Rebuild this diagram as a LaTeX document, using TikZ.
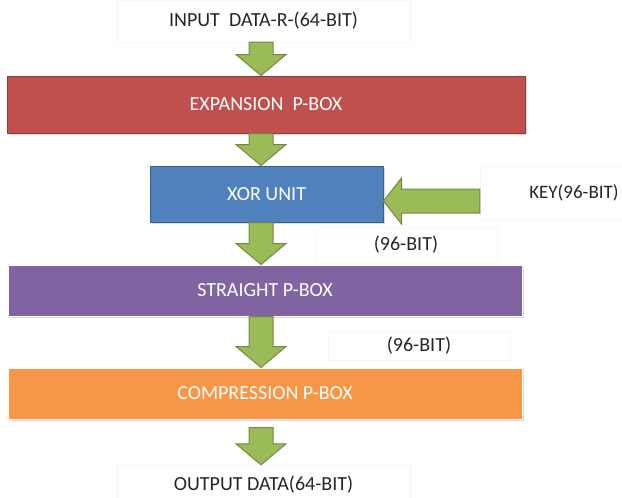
\documentclass[tikz,border=0pt]{standalone}
\usepackage{fontspec}
\setmainfont{Carlito}
\usetikzlibrary{calc,shadows}
\definecolor{expred}{HTML}{C0504D}
\definecolor{xorblue}{HTML}{4F81BD}
\definecolor{strpurple}{HTML}{8064A2}
\definecolor{cmporange}{HTML}{F79646}
\definecolor{arrgreen}{HTML}{9BBB59}
\definecolor{arrdark}{HTML}{71893F}
\newcommand{\downblk}[2]{%
  \draw[blk] let \p1=(#1), \p2=(#2) in
    (\x1-12pt,\y1) -- (\x1+12pt,\y1) -- (\x1+12pt,\y2+21pt) -- (\x1+25pt,\y2+21pt)
    -- (\x1,\y2) -- (\x1-25pt,\y2+21pt) -- (\x1-12pt,\y2+21pt) -- cycle;}
\newcommand{\leftblk}[2]{%
  \draw[blk] let \p1=(#1), \p2=(#2) in
    (\x1,\y1+12pt) -- (\x2+18pt,\y1+12pt) -- (\x2+18pt,\y1+23pt) -- (\x2,\y1)
    -- (\x2+18pt,\y1-23pt) -- (\x2+18pt,\y1-12pt) -- (\x1,\y1-12pt) -- cycle;}
\begin{document}
\begin{tikzpicture}[
  x=1pt, y=-1pt,
  box/.style={minimum width=514pt, minimum height=51pt, inner sep=0pt, text=white,
    font=\fontsize{20}{24}\selectfont, line width=1pt,
    drop shadow={shadow xshift=1.5pt, shadow yshift=-2pt, opacity=0.3, fill=black!50}},
  lbl/.style={draw=black!3, fill=white, inner sep=0pt, font=\fontsize{20}{24}\selectfont, text=black!85},
  blk/.style={fill=arrgreen, draw=arrdark, line width=1pt, line join=miter}
]
\useasboundingbox (0,0) rectangle (622,498);
\coordinate (axis) at (261,0);
\node[lbl, minimum width=293pt, minimum height=42pt] (in) at (263.5,21) {INPUT\ \ DATA-R-(64-BIT)};
\node[box, fill=expred, draw=expred!75!black, minimum width=518pt, minimum height=57pt] (exp) at (266,104.5) {EXPANSION\ \ P-BOX};
\node[box, fill=xorblue, draw=xorblue!75!black, minimum width=233pt, minimum height=56pt] (xor) at (266.5,194) {XOR UNIT};
\node[lbl, minimum width=142pt, minimum height=54pt, font=\fontsize{19}{23}\selectfont] (key) at (551,193) {\hspace*{46pt}KEY(96-BIT)};
\node[lbl, minimum width=182pt, minimum height=34pt] (bits1) at (406,245) {(96-BIT)};
\node[box, fill=strpurple, draw=white] (str) at (265,290.5) {STRAIGHT P-BOX};
\node[lbl, minimum width=182pt, minimum height=28pt] (bits2) at (419,346) {(96-BIT)};
\node[box, fill=cmporange, draw=white] (cmp) at (265,393.5) {COMPRESSION P-BOX};
\node[lbl, minimum width=293pt, minimum height=40pt] (out) at (263.5,485) {OUTPUT DATA(64-BIT)};
\downblk{in.south -| axis}{exp.north -| axis}
\downblk{exp.south -| axis}{xor.north -| axis}
\downblk{xor.south -| axis}{str.north -| axis}
\downblk{str.south -| axis}{cmp.north -| axis}
\downblk{$(cmp.south -| axis)+(0,8)$}{out.north -| axis}
\leftblk{$(key.west)+(0,8)$}{$(xor.east)+(0,7)$}
\end{tikzpicture}
\end{document}
